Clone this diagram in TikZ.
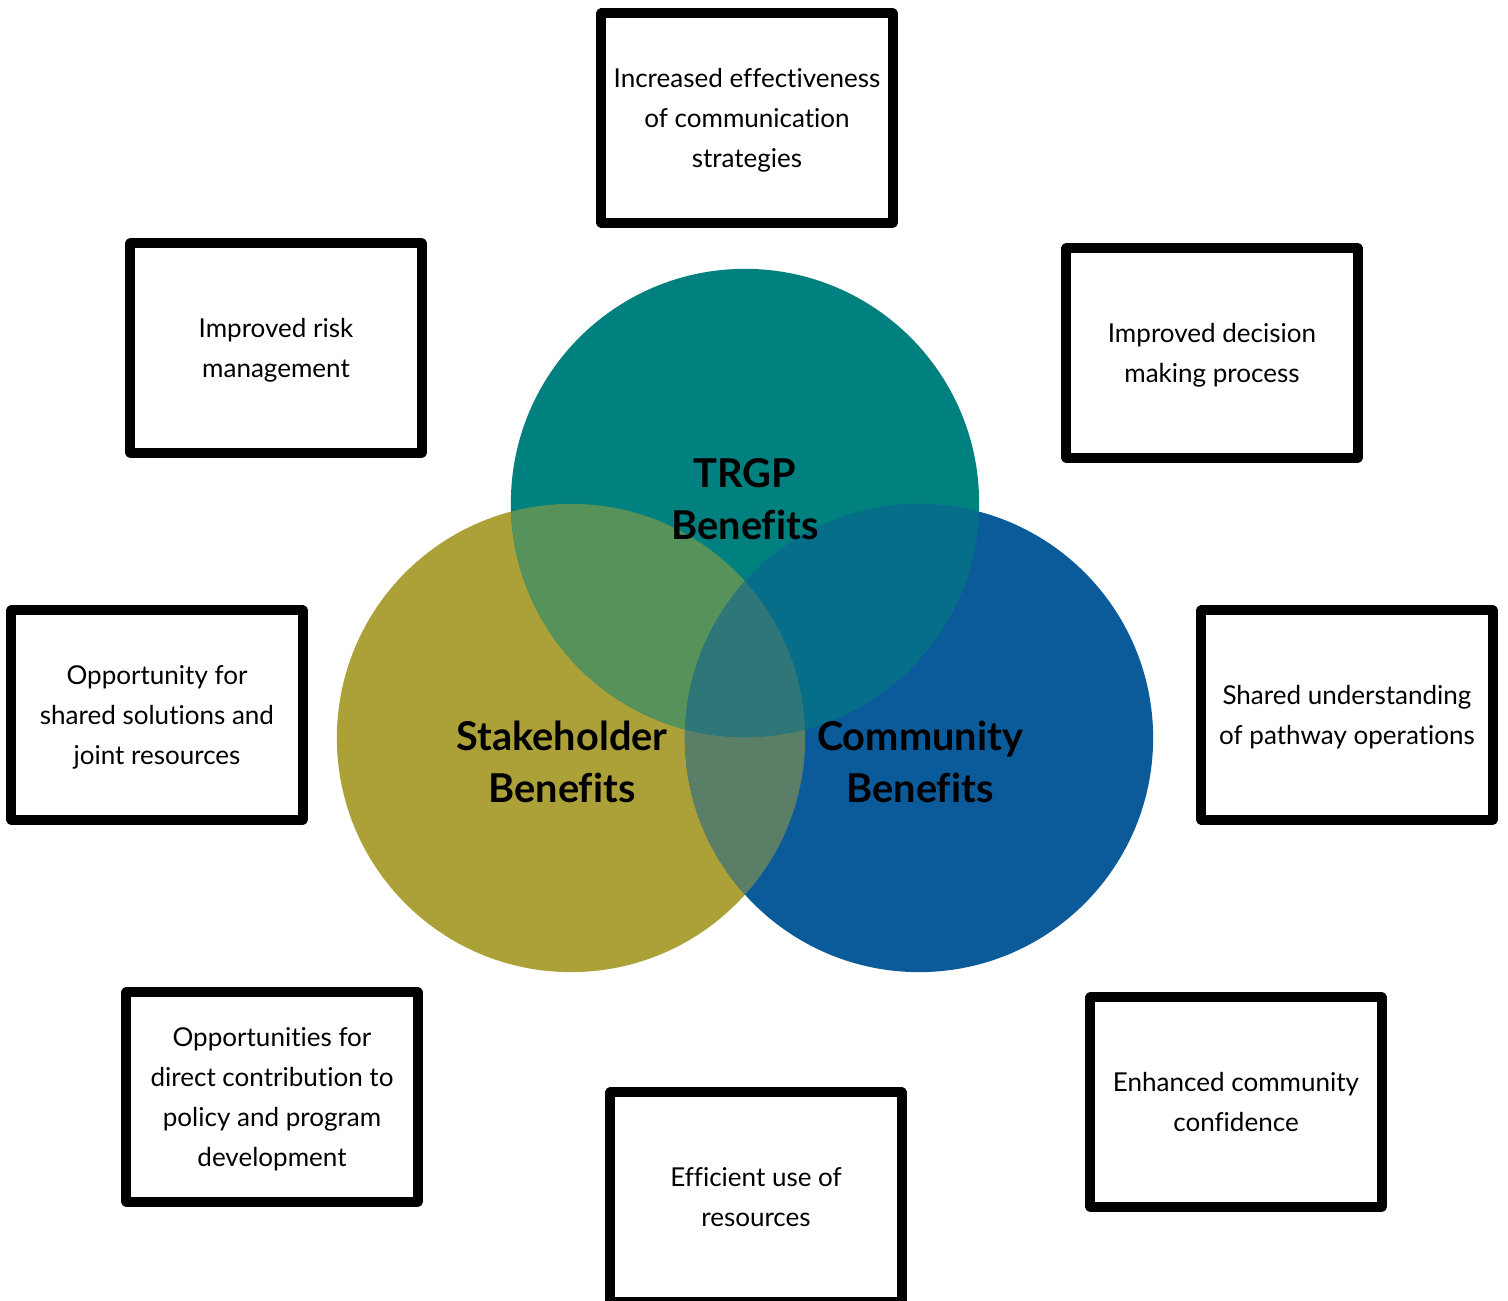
\documentclass[tikz,border=0pt]{standalone}
\usepackage{fontspec}
\setmainfont{Lato}[Ligatures=NoCommon]

\definecolor{tealfill}{HTML}{00807F}
\definecolor{olivefill}{HTML}{ACA139}
\definecolor{bluefill}{HTML}{0B5A9A}
\definecolor{tealolive}{HTML}{57925B}
\definecolor{tealblue}{HTML}{066E89}
\definecolor{oliveblue}{HTML}{5A7F66}
\definecolor{allthree}{HTML}{2E7678}

\tikzset{
    benefitbox/.style={draw=black, line width=0.1cm, line join=round, fill=white,
        minimum width=2.91cm, minimum height=2.09cm, inner sep=0pt, align=center,
        text depth=0pt, font=\fontsize{7.4}{11.4}\selectfont},
    circlelabel/.style={align=center, font=\fontsize{11.3}{14.8}\selectfont\bfseries}
}

\begin{document}
\begin{tikzpicture}[x=0.01cm, y=-0.01cm]
            \useasboundingbox[fill=white] (0, 0) rectangle (1508, 1301);

            % Kreismittelpunkte
            \coordinate (trgp) at (745, 503);
            \coordinate (stake) at (571, 738);
            \coordinate (comm) at (919, 738);

            % Kreise
            \fill[olivefill] (stake) circle[radius=2.34cm];
            \fill[bluefill] (comm) circle[radius=2.34cm];
            \fill[tealfill] (trgp) circle[radius=2.34cm];

            % Schnittflaechen
            \begin{scope}
                \clip (stake) circle[radius=2.34cm];
                \fill[oliveblue] (comm) circle[radius=2.34cm];
                \fill[tealolive] (trgp) circle[radius=2.34cm];
            \end{scope}
            \begin{scope}
                \clip (comm) circle[radius=2.34cm];
                \fill[tealblue] (trgp) circle[radius=2.34cm];
            \end{scope}
            \begin{scope}
                \clip (stake) circle[radius=2.34cm];
                \clip (comm) circle[radius=2.34cm];
                \fill[allthree] (trgp) circle[radius=2.34cm];
            \end{scope}

            % Beschriftungen der Kreise
            \node[circlelabel] (trgplabel) at (745, 499) {TRGP\\Benefits};
            \node[circlelabel] (stakelabel) at (562, 762) {Stakeholder\\Benefits};
            \node[circlelabel] (commlabel) at (920, 762) {Community\\Benefits};

            % Kaesten
            \node[benefitbox] (communication) at (747, 118) {Increased effectiveness\\of communication\\strategies};
            \node[benefitbox] (risk) at (276, 348) {Improved risk\\management};
            \node[benefitbox] (decision) at (1212, 353) {Improved decision\\making process};
            \node[benefitbox] (solutions) at (157, 715) {Opportunity for\\shared solutions and\\joint resources};
            \node[benefitbox] (understanding) at (1347, 715) {Shared understanding\\of pathway operations};
            \node[benefitbox] (policy) at (272, 1097) {Opportunities for\\direct contribution to\\policy and program\\development};
            \node[benefitbox] (confidence) at (1236, 1102) {Enhanced community\\confidence};
            \node[benefitbox] (resources) at (756, 1197) {Efficient use of\\resources};
\end{tikzpicture}
\end{document}
